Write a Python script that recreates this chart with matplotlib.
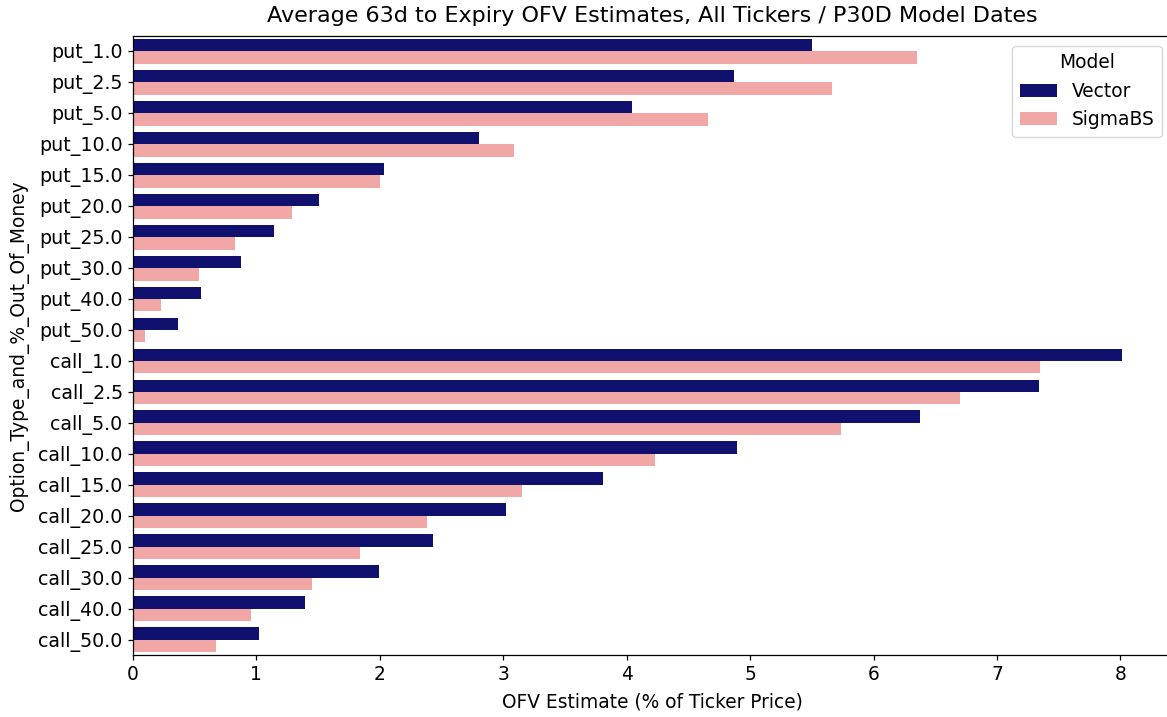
import matplotlib
matplotlib.use("Agg")
import matplotlib.pyplot as plt
import numpy as np

categories = ["put_1.0", "put_2.5", "put_5.0", "put_10.0", "put_15.0", "put_20.0",
              "put_25.0", "put_30.0", "put_40.0", "put_50.0",
              "call_1.0", "call_2.5", "call_5.0", "call_10.0", "call_15.0",
              "call_20.0", "call_25.0", "call_30.0", "call_40.0", "call_50.0"]
vector = [5.50, 4.87, 4.04, 2.80, 2.03, 1.51, 1.14, 0.875, 0.55, 0.365,
          8.01, 7.34, 6.38, 4.89, 3.81, 3.02, 2.43, 1.99, 1.39, 1.02]
sigmabs = [6.35, 5.66, 4.66, 3.09, 2.00, 1.29, 0.83, 0.535, 0.227, 0.097,
           7.35, 6.70, 5.74, 4.23, 3.15, 2.38, 1.84, 1.45, 0.96, 0.67]
series_names = ["Vector", "SigmaBS"]
colors = ["#10106F", "#F2A7A7"]

s = 1.12
plt.rcParams.update({
    "xtick.major.size": 3.5 * s, "ytick.major.size": 3.5 * s,
    "xtick.major.width": 0.8 * s, "ytick.major.width": 0.8 * s,
    "axes.linewidth": 0.8 * s,
})

W, H = 1167, 717
fig = plt.figure(figsize=(W / 100, H / 100), dpi=100)
left, right, top, bottom = 133, 1171, 36, 655
ax = fig.add_axes([left / W, 1 - bottom / H, (right - left) / W, (bottom - top) / H])

y = np.arange(len(categories))
bw = 0.4
ax.barh(y - bw / 2, vector, height=bw, color=colors[0], label=series_names[0])
ax.barh(y + bw / 2, sigmabs, height=bw, color=colors[1], label=series_names[1])

fs = 12 * s
ax.set_yticks(y)
ax.set_yticklabels(categories, fontsize=fs * 1.02)
ax.set_ylim(len(categories) - 0.5, -0.5)
ax.set_xlim(0, 8.41)
ax.set_xticks(np.arange(0, 9, 1))
ax.tick_params(axis="x", labelsize=fs)
ax.set_xlabel("OFV Estimate (% of Ticker Price)", fontsize=fs, labelpad=6)
ax.set_ylabel("Option_Type_and_%_Out_Of_Money", fontsize=fs)
ax.yaxis.set_label_coords((29 - left) / (right - left), 0.5)
ax.set_title("Average 63d to Expiry OFV Estimates, All Tickers / P30D Model Dates", fontsize=16, pad=10)

leg = ax.legend(title="Model", fontsize=fs, title_fontsize=fs, loc="upper right",
                borderaxespad=0,
                bbox_to_anchor=((1162 - left) / (right - left), 1 - 10 / (bottom - top)))

fig.savefig("out.png", dpi=100)
